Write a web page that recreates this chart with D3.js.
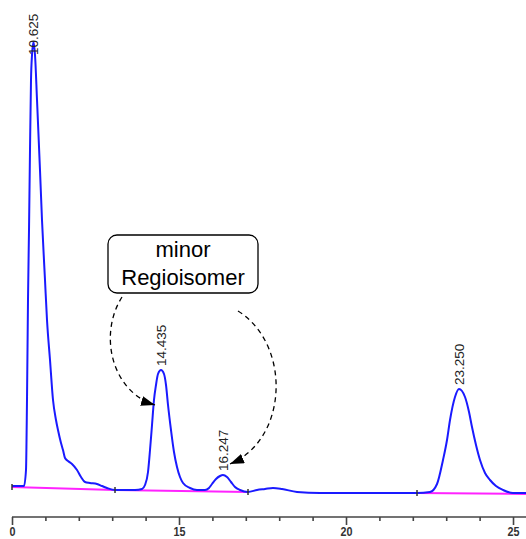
<!DOCTYPE html>
<html>
<head>
<meta charset="utf-8">
<script src="https://cdn.jsdelivr.net/npm/d3@7"></script>
<style>
  body { margin: 0; background: #fff; }
  svg { display: block; }
</style>
</head>
<body>
<svg id="chart"></svg>
<script>
let w = 526;
let h = 539;

// retention time (min) of each point of the trace
const traceTime = [10.000, 10.240, 10.359, 10.419, 10.449, 10.479, 10.509, 10.539, 10.569, 10.599,
  10.644, 10.689, 10.749, 10.838, 10.898, 10.988, 11.048, 11.138, 11.228, 11.317,
  11.377, 11.467, 11.527, 11.587, 11.677, 11.796, 11.946, 12.066, 12.186, 12.335,
  12.545, 12.695, 12.844, 13.084, 13.383, 13.683, 13.892, 13.982, 14.072, 14.132,
  14.192, 14.251, 14.311, 14.371, 14.461, 14.551, 14.611, 14.671, 14.760, 14.850,
  14.940, 15.030, 15.120, 15.329, 15.539, 15.778, 15.898, 15.988, 16.108, 16.228,
  16.317, 16.437, 16.557, 16.677, 16.826, 17.066, 17.335, 17.575, 17.814, 18.084,
  18.533, 19.222, 20.120, 21.018, 22.126, 22.515, 22.725, 22.904, 23.024, 23.114,
  23.263, 23.383, 23.563, 23.683, 23.772, 23.892, 24.012, 24.162, 24.311, 24.491,
  24.701, 25.000, 25.389];
// detector signal at those times
const traceSignal = [7, 7, 7, 23, 93, 193, 263, 343, 413, 438,
  451, 438, 393, 323, 273, 213, 173, 133, 93, 73,
  63, 50, 43, 35, 32, 29, 23, 16, 11, 10,
  9, 7, 5, 3, 3, 3, 4, 8, 21, 43,
  68, 93, 108, 119, 123, 119, 108, 88, 63, 41,
  26, 16, 10, 5, 3, 3, 5, 9, 14, 17,
  18, 16, 11, 6, 3, 1, 3, 4, 5, 4,
  1, 0, 0, 0, 0, 1, 9, 33, 53, 73,
  96, 104, 96, 81, 66, 48, 33, 20, 13, 7,
  3, 0, 0];

// labelled peaks
const peakTimes = [10.625, 14.435, 16.247, 23.250];
const peakLabels = ['10.625', '14.435', '16.247', '23.250'];

// integration baselines: [start time, start signal, end time, end signal]
const baseStartTime = [10.000, 13.084, 22.126];
const baseStartSignal = [6, 3, 0];
const baseEndTime = [13.084, 17.066, 25.389];
const baseEndSignal = [3, 1, -1];

// axis ticks
const majorTicks = [10, 15, 20, 25];
const minorTicks = [11, 12, 13, 14, 16, 17, 18, 19, 21, 22, 23, 24];
const tickLabels = ['0', '15', '20', '25'];

const noteLines = ['minor', 'Regioisomer'];

const trace = traceTime.map((t, i) => ({t: t, s: traceSignal[i]}));

let svg = d3.select('#chart')
  .attr('width', w)
  .attr('height', h);

let x = d3.scaleLinear().domain([10, 25.389]).range([12, 526]);
let y = d3.scaleLinear().domain([0, 460]).range([493, 33]);

// baselines (magenta)
baseStartTime.forEach((t0, i) => {
  svg.append('line')
    .attr('x1', x(t0)).attr('y1', y(baseStartSignal[i]))
    .attr('x2', x(baseEndTime[i])).attr('y2', y(baseEndSignal[i]))
    .attr('stroke', '#ff22ff')
    .attr('stroke-width', 2);
});

// trace
let line = d3.line()
  .x(d => x(d.t))
  .y(d => y(d.s))
  .curve(d3.curveMonotoneX);

svg.append('path')
  .datum(trace)
  .attr('d', line)
  .attr('fill', 'none')
  .attr('stroke', '#1a1aff')
  .attr('stroke-width', 2)
  .attr('stroke-linejoin', 'round');

// little marks at integration boundaries
let marks = baseStartTime.map((t, i) => ({t: t, s: baseStartSignal[i]}));
marks.push({t: baseEndTime[1], s: baseEndSignal[1]});
svg.selectAll('line.mark')
  .data(marks)
  .enter()
  .append('line')
    .attr('class', 'mark')
    .attr('x1', d => x(d.t)).attr('x2', d => x(d.t))
    .attr('y1', d => y(d.s) - 3).attr('y2', d => y(d.s) + 3)
    .attr('stroke', '#333')
    .attr('stroke-width', 1.5);

// peak labels, placed over the local top of the trace
peakTimes.forEach((pt, i) => {
  let near = trace.filter(d => Math.abs(d.t - pt) < 0.3);
  let top = near.reduce((a, b) => (b.s > a.s ? b : a));
  let yStart = Math.max(y(top.s) - 4, 55);
  svg.append('text')
    .attr('transform', `translate(${x(top.t)},${yStart}) rotate(-90)`)
    .attr('dy', '0.35em')
    .text(peakLabels[i])
    .style('font-family', 'Liberation Sans, Arial, sans-serif')
    .style('font-size', '13.5px')
    .style('fill', '#222');
});

// x axis
let axisY = 517;
svg.append('g')
  .attr('transform', `translate(0,${axisY})`)
  .call(d3.axisBottom(x).tickValues(minorTicks).tickSize(4).tickFormat(''))
  .call(g => g.selectAll('line, path').attr('stroke', '#444').attr('stroke-width', 1.6))
  .call(g => g.select('.domain').attr('d', `M${x(10)},0H${w}`));

svg.append('g')
  .attr('transform', `translate(0,${axisY})`)
  .call(d3.axisBottom(x).tickValues(majorTicks).tickSize(8).tickPadding(2)
    .tickFormat((d, i) => tickLabels[i]))
  .call(g => g.select('.domain').remove())
  .call(g => g.selectAll('line').attr('stroke', '#444').attr('stroke-width', 1.6))
  .call(g => g.selectAll('text')
    .attr('textLength', (d, i) => tickLabels[i].length * 6)
    .attr('lengthAdjust', 'spacingAndGlyphs')
    .style('font-family', 'Liberation Sans, Arial, sans-serif')
    .style('font-weight', 'bold')
    .style('font-size', '13px')
    .style('fill', '#333'));

// annotation box
let note = svg.append('g');
note.append('rect')
  .attr('x', 108).attr('y', 235)
  .attr('width', 150).attr('height', 58)
  .attr('rx', 9)
  .attr('fill', '#fff')
  .attr('stroke', '#000')
  .attr('stroke-width', 1.3);
note.selectAll('text')
  .data(noteLines)
  .enter()
  .append('text')
    .attr('x', 183)
    .attr('y', (d, i) => 257 + i * 28)
    .text(d => d)
    .style('text-anchor', 'middle')
    .style('font-family', 'Liberation Sans, Arial, sans-serif')
    .style('font-size', '22px');

// dashed arrows
svg.append('defs').append('marker')
  .attr('id', 'head')
  .attr('viewBox', '0 0 14 10')
  .attr('refX', 14).attr('refY', 5)
  .attr('markerWidth', 14).attr('markerHeight', 10)
  .attr('markerUnits', 'userSpaceOnUse')
  .attr('orient', 'auto')
  .append('path')
    .attr('d', 'M0,0L14,5L0,10Z')
    .attr('fill', '#000');

let arrows = [
  'M122,297 C98,335 112,392 155,405',
  'M238,311 C292,345 288,440 230,464'
];
svg.selectAll('path.arrow')
  .data(arrows)
  .enter()
  .append('path')
    .attr('class', 'arrow')
    .attr('d', d => d)
    .attr('fill', 'none')
    .attr('stroke', '#000')
    .attr('stroke-width', 1.3)
    .attr('stroke-dasharray', '5,4')
    .attr('marker-end', 'url(#head)');
</script>
</body>
</html>
